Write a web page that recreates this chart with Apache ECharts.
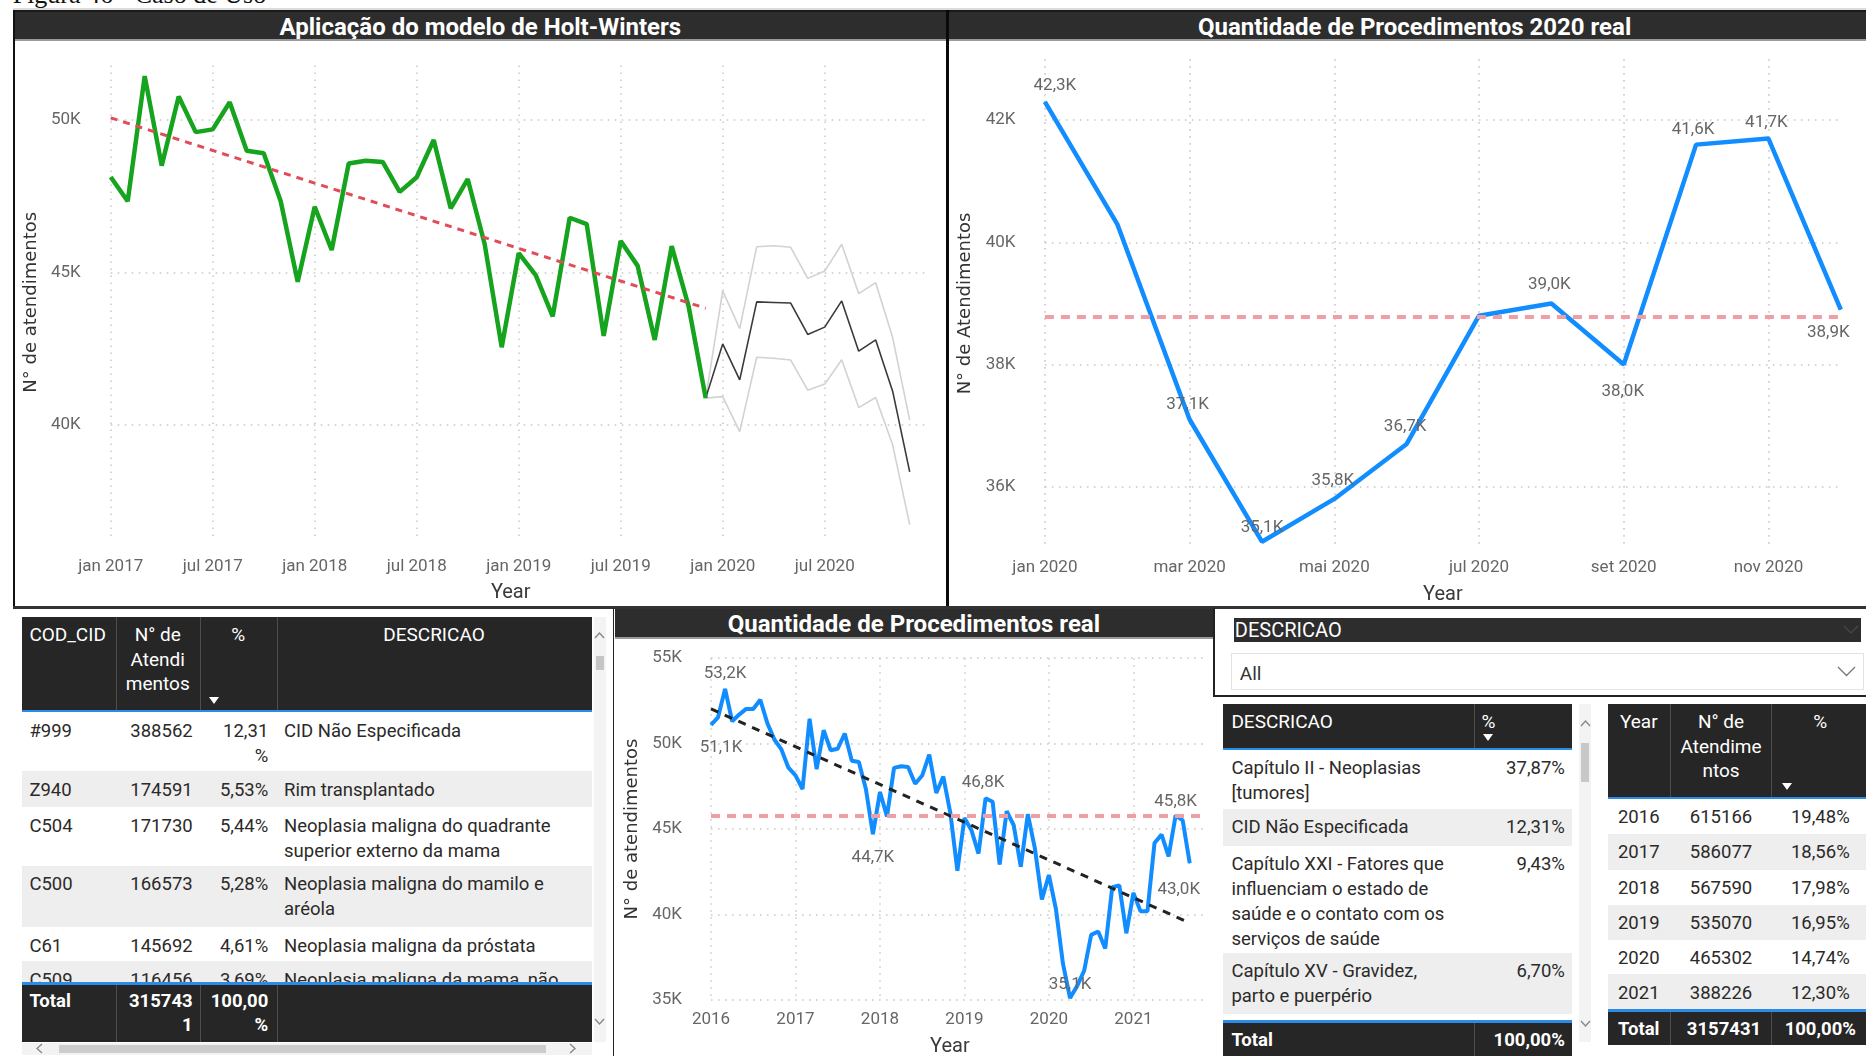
<!DOCTYPE html>
<html lang="pt-BR">
<head>
<meta charset="utf-8">
<title>Painel de atendimentos</title>
<script src="https://cdn.jsdelivr.net/npm/echarts@6.0.0/dist/echarts.min.js"></script>
<style>
  html, body { margin:0; padding:0; width:1866px; height:1056px; overflow:hidden; background:#fff; }
  body { position:relative; font-family: Roboto, "Liberation Sans", sans-serif; color:#2b2a29; }
  .a { position:absolute; box-sizing:border-box; }
  .t { position:absolute; white-space:pre; }
  .w { position:absolute; white-space:normal; word-break:break-all; }
  .ww { position:absolute; white-space:normal; }
  .chart { position:absolute; }
  .title { background:#2d2d2d; color:#fff; font-weight:700; font-size:24px; text-align:center; line-height:30px; border-bottom:2px solid #9a9a9a; white-space:nowrap; overflow:hidden; }
</style>
</head>
<body>
<div class="t" style="left:12.7px; top:-18px; font-family:'Liberation Serif','DejaVu Serif',serif; font-size:26px; line-height:26px; color:#111;">Figura 46 - Caso de Uso</div>

<script>
// ---------- dados ----------
const monthNames = ['jan','fev','mar','abr','mai','jun','jul','ago','set','out','nov','dez'];

// atendimentos mensais
const atend2016 = [51100, 51540, 53200, 51310, 51700, 52030, 52030, 52570, 51200, 50240, 49660, 48590];
const atend2017 = [48140, 47340, 51450, 48510, 50780, 49610, 49700, 50590, 49000, 48920, 47340, 44700];
const atend2018 = [47160, 45740, 48580, 48670, 48630, 47650, 48130, 49350, 47110, 48070, 45930, 42550];
const atend2019 = [45640, 44920, 43560, 46800, 46590, 42920, 46040, 45220, 42790, 45870, 43880, 40880];
const atend2020 = [42300, 40300, 37100, 35100, 35800, 36700, 38800, 39000, 38000, 41600, 41700, 38900];
const atend2021 = [41260, 40190, 40190, 44180, 44670, 43400, 45800, 45510, 43000];

// previsão Holt-Winters para 2020 e intervalo
const hwPrevisao  = [42660, 41480, 44040, 44020, 44000, 42970, 43210, 44070, 42420, 42790, 41100, 38460];
const hwLimiteSup = [44400, 43160, 45850, 45880, 45830, 44810, 45050, 45930, 44310, 44670, 42860, 40160];
const hwLimiteInf = [40930, 39780, 42220, 42190, 42130, 41140, 41340, 42140, 40570, 40900, 39340, 36730];

// linhas de tendência (extremos)
const hwTendencia = [50080, 43830];     // jan 2017 -> dez 2019
const realTendencia = [52030, 39500];   // jan 2016 -> set 2021

// tabelas
const cidCodigos = ['#999', 'Z940', 'C504', 'C500', 'C61', 'C509'];
const cidAtend = ['388562', '174591', '171730', '166573', '145692', '116456'];
const cidPct = ['12,31%', '5,53%', '5,44%', '5,28%', '4,61%', '3,69%'];
const cidDescricao = ['CID Não Especificada', 'Rim transplantado',
  'Neoplasia maligna do quadrante superior externo da mama', 'Neoplasia maligna do mamilo e aréola',
  'Neoplasia maligna da próstata', 'Neoplasia maligna da mama, não especificada'];

const capitulos = ['Capítulo II - Neoplasias [tumores]', 'CID Não Especificada',
  'Capítulo XXI - Fatores que influenciam o estado de saúde e o contato com os serviços de saúde',
  'Capítulo XV - Gravidez, parto e puerpério'];
const capitulosPct = ['37,87%', '12,31%', '9,43%', '6,70%'];

const anos = ['2016', '2017', '2018', '2019', '2020', '2021'];
const atendPorAno = ['615166', '586077', '567590', '535070', '465302', '388226'];
const pctPorAno = ['19,48%', '18,56%', '17,98%', '16,95%', '14,74%', '12,30%'];
const totalAtend = '3157431';
const totalPct = '100,00%';

// ---------- helpers de layout ----------
const FONT = 'Roboto, "Liberation Sans", sans-serif';
// permite quebrar a linha antes do sinal de porcentagem em colunas estreitas
const quebraPct = s => s.replace('%', '\u200B%');

function el(x, y, w, h, css, text) {
  const d = document.createElement('div');
  d.className = 'a';
  d.style.cssText = `left:${x}px;top:${y}px;` + (w != null ? `width:${w}px;` : '') + (h != null ? `height:${h}px;` : '') + (css || '');
  if (text != null) d.textContent = text;
  document.body.appendChild(d);
  return d;
}
// cy = centro da primeira linha; align: l (x = esquerda), r (x = direita), c (x = centro)
function txt(s, x, cy, align, css, lh) {
  lh = lh || 25;
  const d = document.createElement('div');
  d.className = 't';
  const tx = align === 'r' ? 'translateX(-100%)' : align === 'c' ? 'translateX(-50%)' : 'none';
  const ta = align === 'r' ? 'right' : align === 'c' ? 'center' : 'left';
  d.style.cssText = `left:${x}px;top:${cy - lh / 2}px;line-height:${lh}px;transform:${tx};text-align:${ta};` + (css || '');
  d.textContent = s;
  document.body.appendChild(d);
  return d;
}
// texto com quebra automática dentro de largura w
function wtxt(s, x, cy, w, align, css, lh, cls) {
  lh = lh || 25;
  const d = document.createElement('div');
  d.className = cls || 'w';
  const left = align === 'r' ? x - w : x;
  d.style.cssText = `left:${left}px;top:${cy - lh / 2}px;width:${w}px;line-height:${lh}px;text-align:${align === 'r' ? 'right' : 'left'};` + (css || '');
  d.textContent = s;
  document.body.appendChild(d);
  return d;
}
function chevron(cx, cy, dir, w, h, color, sw) {
  const ns = 'http://www.w3.org/2000/svg';
  const s = document.createElementNS(ns, 'svg');
  s.setAttribute('width', w + 4); s.setAttribute('height', h + 4);
  s.style.cssText = `position:absolute;left:${cx - w / 2 - 2}px;top:${cy - h / 2 - 2}px;overflow:visible`;
  const p = document.createElementNS(ns, 'polyline');
  let pts;
  if (dir === 'up') pts = `2,${h + 2} ${w / 2 + 2},2 ${w + 2},${h + 2}`;
  if (dir === 'down') pts = `2,2 ${w / 2 + 2},${h + 2} ${w + 2},2`;
  if (dir === 'left') pts = `${w + 2},2 2,${h / 2 + 2} ${w + 2},${h + 2}`;
  if (dir === 'right') pts = `2,2 ${w + 2},${h / 2 + 2} 2,${h + 2}`;
  p.setAttribute('points', pts); p.setAttribute('fill', 'none');
  p.setAttribute('stroke', color); p.setAttribute('stroke-width', sw || 1.4);
  s.appendChild(p); document.body.appendChild(s);
}
function sortArrow(cx, cy) {
  el(cx - 5.5, cy - 3.5, 0, 0, 'border-left:5.5px solid transparent;border-right:5.5px solid transparent;border-top:7px solid #fff;');
}

// ---------- molduras e títulos ----------
el(13, 8, 1853, 2.5, 'background:#dcdcdc');
el(13, 10, 1853, 1.8, 'background:#1a1a1a');
el(13, 10, 2, 598, 'background:#111');
el(945.7, 10, 3.4, 598, 'background:#0a0a0a');
el(13, 606.3, 1853, 2.5, 'background:#333');
el(15, 11.5, 930.7, 29, '', 'Aplicação do modelo de Holt-Winters').classList.add('title');
el(949.1, 11.5, 931, 29, '', 'Quantidade de Procedimentos 2020 real').classList.add('title');
el(612.7, 608, 1.8, 448, 'background:#222');
el(614.5, 609, 598.8, 29.5, '', 'Quantidade de Procedimentos real').classList.add('title');
el(1213.3, 608, 2, 89, 'background:#222');
el(1213.3, 695, 652.7, 2, 'background:#222');

// ---------- filtro DESCRICAO ----------
el(1233.5, 618, 627.5, 23.5, 'background:#2d2d2d');
txt('DESCRICAO', 1234.8, 629.8, 'l', 'color:#fff;font-size:20px;', 24);
chevron(1850.7, 629, 'down', 14, 7, '#4a4a4a', 1.2);
el(1230.6, 653.3, 633.4, 36.7, 'border:1px solid #e3e3e3;background:#fff');
txt('All', 1239.8, 674.3, 'l', 'color:#333;font-size:19px;', 24);
chevron(1846.5, 671.7, 'down', 17, 8.5, '#777', 1.3);

// ---------- tabela CID ----------
(function () {
  const HEAD = '#262626', BLUE = '#2b8be6', GRAY = '#eeeeee';
  el(21.5, 616.5, 570, 93.5, 'background:' + HEAD);
  el(21.5, 710, 570, 2.3, 'background:' + BLUE);
  [115.5, 200, 276.5].forEach(x => el(x, 616.5, 1, 93.5, 'background:#4d4d4d'));
  const hcss = 'color:#fff;font-size:19px;';
  txt('COD_CID', 29.4, 635.4, 'l', hcss, 24.3);
  txt('N° de\nAtendi\nmentos', 157.75, 635.4, 'c', hcss, 24.3);
  txt('%', 238.25, 635.4, 'c', hcss, 24.3);
  txt('DESCRICAO', 434, 635.4, 'c', hcss, 24.3);
  sortArrow(214, 700.4);

  const tops = [712, 771.4, 807, 865.7, 927.4, 961.4];
  const hs = [59.4, 35.6, 58.7, 61.7, 34, 40];
  const bcss = 'color:#2b2a29;font-size:18.5px;';
  tops.forEach((t, i) => {
    el(21.5, t, 570, hs[i], 'background:' + (i % 2 ? GRAY : '#fff'));
    const cy = t + 19;
    txt(cidCodigos[i], 29.4, cy, 'l', bcss);
    txt(cidAtend[i], 192.7, cy, 'r', bcss);
    wtxt(quebraPct(cidPct[i]), 268.3, cy, 53, 'r', bcss, 25, 'ww');
    wtxt(cidDescricao[i], 284, cy, 300, 'l', bcss, 25, 'ww');
  });
  el(21.5, 982, 570, 2.5, 'background:' + BLUE);
  el(21.5, 984.5, 570, 57, 'background:' + HEAD);
  [115.5, 200, 276.5].forEach(x => el(x, 984.5, 1, 57, 'background:#4d4d4d'));
  const tcss = 'color:#fff;font-size:18.5px;font-weight:700;';
  txt('Total', 29.4, 1001.4, 'l', tcss, 24);
  wtxt(totalAtend, 192.7, 1001.4, 66, 'r', tcss, 24);
  wtxt(quebraPct(totalPct), 268.3, 1001.4, 64, 'r', tcss, 24, 'ww');

  // barras de rolagem
  el(593.5, 616.5, 12, 425, 'background:#f3f3f3');
  el(595.5, 656, 8, 14, 'background:#c6c6c6');
  chevron(599.5, 635, 'up', 9, 5, '#888');
  chevron(599.5, 1021.4, 'down', 9, 5, '#888');
  el(21.5, 1042.5, 570, 12.5, 'background:#f3f3f3');
  el(58.8, 1045, 487.6, 8, 'background:#cdcdcd');
  chevron(39, 1048.7, 'left', 5, 9, '#888');
  chevron(572.6, 1048.7, 'right', 5, 9, '#888');
})();

// ---------- tabela capítulos ----------
(function () {
  const HEAD = '#262626', BLUE = '#2b8be6', GRAY = '#eeeeee';
  el(1223, 704, 349.4, 44, 'background:' + HEAD);
  el(1223, 748, 349.4, 2.3, 'background:' + BLUE);
  el(1474.1, 704, 1, 44, 'background:#4d4d4d');
  const hcss = 'color:#fff;font-size:19px;';
  txt('DESCRICAO', 1231.4, 722.3, 'l', hcss, 24);
  txt('%', 1481.6, 722.3, 'l', hcss, 24);
  sortArrow(1488.8, 737.3);

  const tops = [750, 809, 845.7, 952.7];
  const hs = [59, 36.7, 107, 61.6];
  const bcss = 'color:#2b2a29;font-size:18.5px;';
  tops.forEach((t, i) => {
    el(1223, t, 349.4, hs[i], 'background:' + (i % 2 ? GRAY : '#fff'));
    const cy = t + 18.5;
    wtxt(capitulos[i], 1231.4, cy, 222, 'l', bcss, 25, 'ww');
    txt(capitulosPct[i], 1564.9, cy, 'r', bcss);
  });
  el(1223, 1020, 349.4, 2.5, 'background:' + BLUE);
  el(1223, 1022.5, 349.4, 40, 'background:' + HEAD);
  el(1474.1, 1022.5, 1, 40, 'background:#4d4d4d');
  const tcss = 'color:#fff;font-size:18.5px;font-weight:700;';
  txt('Total', 1231.4, 1040, 'l', tcss);
  txt(totalPct, 1564.9, 1040, 'r', tcss);

  el(1578.7, 704, 12.5, 337.7, 'background:#f3f3f3');
  el(1580.7, 743.3, 8.5, 38.4, 'background:#c8c8c8');
  chevron(1585, 723.3, 'up', 9, 5, '#888');
  chevron(1585, 1023.3, 'down', 9, 5, '#888');
})();

// ---------- tabela por ano ----------
(function () {
  const HEAD = '#262626', BLUE = '#2b8be6', GRAY = '#eeeeee';
  el(1608, 704, 270, 93, 'background:' + HEAD);
  el(1608, 797, 270, 2.3, 'background:' + BLUE);
  [1669.5, 1771.2].forEach(x => el(x, 704, 1, 93, 'background:#4d4d4d'));
  const hcss = 'color:#fff;font-size:19px;';
  const cx = [1638.75, 1721, 1820.3];
  txt('Year', cx[0], 722.3, 'c', hcss, 24.4);
  txt('N° de\nAtendime\nntos', cx[1], 722.3, 'c', hcss, 24.4);
  txt('%', cx[2], 722.3, 'c', hcss, 24.4);
  sortArrow(1787, 786.7);

  const tops = [799, 834, 870, 905, 940, 974.3];
  const hs = [35, 36, 35, 35, 34.3, 34.7];
  const bcss = 'color:#2b2a29;font-size:18.5px;';
  tops.forEach((t, i) => {
    el(1608, t, 270, hs[i], 'background:' + (i % 2 ? GRAY : '#fff'));
    const cy = t + 18.7;
    txt(anos[i], cx[0], cy, 'c', bcss);
    txt(atendPorAno[i], cx[1], cy, 'c', bcss);
    txt(pctPorAno[i], cx[2], cy, 'c', bcss);
  });
  el(1608, 1009, 270, 2.5, 'background:' + BLUE);
  el(1608, 1011.5, 270, 33, 'background:' + HEAD);
  [1669.5, 1771.2].forEach(x => el(x, 1011.5, 1, 33, 'background:#4d4d4d'));
  const tcss = 'color:#fff;font-size:18.5px;font-weight:700;';
  txt('Total', cx[0], 1029, 'c', tcss);
  txt(totalAtend, cx[1] + 3, 1029, 'c', tcss);
  txt(totalPct, cx[2], 1029, 'c', tcss);
})();

// ---------- gráficos ----------
function meses(anoIni, n) {
  const out = [];
  for (let i = 0; i < n; i++) out.push(monthNames[i % 12] + ' ' + (anoIni + Math.floor(i / 12)));
  return out;
}
const fmtK = v => (v / 1000).toFixed(1).replace('.', ',') + 'K';
function rotulos(valores, posicoes) {
  return valores.map((v, i) => {
    const p = posicoes[i];
    if (!p) return v;
    return { value: v, label: { show: true, position: p.pos, distance: p.d, offset: [p.dx || 0, 0] } };
  });
}
function chartDiv(x, y, w, h) {
  const d = document.createElement('div');
  d.className = 'chart';
  d.style.cssText = `left:${x}px;top:${y}px;width:${w}px;height:${h}px;`;
  document.body.appendChild(d);
  return echarts.init(d, null, { renderer: 'canvas' });
}
const GRID = '#c9c9c9';
const DOT = [1.6, 5.4];
const T = 'rgba(0,0,0,0)';
const axisLabelBase = { color: '#666', fontSize: 17, fontFamily: FONT };
const yLabelBase = Object.assign({ padding: [4, 0, 0, 0] }, axisLabelBase);
const xNameStyle = { fontSize: 20, color: '#3a3a3a', fontFamily: FONT };
const yNameStyle = { fontSize: 18, color: '#333', fontFamily: '"DejaVu Sans", sans-serif' };
const dataLabel = { show: false, color: '#666', fontSize: 17, fontFamily: FONT, formatter: p => fmtK(p.value) };
// marcadores mínimos só para ancorar os rótulos de valor
const ancora = { symbol: 'circle', symbolSize: 1, showSymbol: true, showAllSymbol: true };
const gridBase = { containLabel: false, outerBoundsMode: 'none' };

// 1) Holt-Winters
(function () {
  const cats = meses(2017, 49);
  const real = [...atend2017, ...atend2018, ...atend2019];
  const pad = new Array(real.length - 1).fill(null);
  const ult = real[real.length - 1];
  const prev = [...pad, ult, ...hwPrevisao];
  const sup = [...pad, ult, ...hwLimiteSup];
  const inf = [...pad, ult, ...hwLimiteInf];
  const mostra = i => i % 6 === 0 && i < 48;
  const c = chartDiv(15, 40, 930, 566);
  c.setOption({
    animation: false,
    grid: Object.assign({ left: 95.7, right: 18.3, top: 25.4, bottom: 66.8 }, gridBase),
    xAxis: {
      type: 'category', data: cats, boundaryGap: false,
      axisLine: { show: false }, axisTick: { show: false },
      axisLabel: Object.assign({ interval: mostra, margin: 19 }, axisLabelBase),
      splitLine: { show: true, interval: mostra, lineStyle: { color: GRID, type: DOT, width: 1.5 } },
      name: 'Year', nameLocation: 'middle', nameGap: 44,
      nameTextStyle: Object.assign({ padding: [0, 16, 0, 0] }, xNameStyle)
    },
    yAxis: {
      type: 'value', min: 36250, max: 51800, interval: 1250,
      axisLine: { show: false }, axisTick: { show: false },
      axisLabel: Object.assign({ margin: 30, formatter: v => (v % 5000 === 0 ? v / 1000 + 'K' : '') }, yLabelBase),
      splitLine: { show: true, lineStyle: { color: [T, T, T, GRID], type: DOT, width: 1.5 } },
      name: 'N° de atendimentos', nameLocation: 'middle', nameGap: 68, nameTextStyle: yNameStyle
    },
    series: [
      { type: 'line', data: inf, symbol: 'none', lineStyle: { color: '#d2d2d2', width: 1.6 } },
      { type: 'line', data: sup, symbol: 'none', lineStyle: { color: '#d2d2d2', width: 1.6 } },
      { type: 'line', data: prev, symbol: 'none', lineStyle: { color: '#3a3a3a', width: 1.6 } },
      { type: 'line', data: real, symbol: 'none', lineStyle: { color: '#16a31e', width: 4.5 } },
      { type: 'line', data: [[0, hwTendencia[0]], [real.length - 1, hwTendencia[1]]], symbol: 'none',
        lineStyle: { color: '#e24c5a', width: 3, type: [7, 6] } }
    ]
  });
})();

// 2) 2020 real
(function () {
  const cats = meses(2020, 12);
  const pos = {
    0: { pos: 'top', d: 7, dx: 10 }, 2: { pos: 'top', d: 6, dx: -2 }, 3: { pos: 'top', d: 5 },
    4: { pos: 'top', d: 9, dx: -1.5 }, 5: { pos: 'top', d: 8, dx: -1.5 }, 7: { pos: 'top', d: 9.5, dx: -2 },
    8: { pos: 'bottom', d: 18.5, dx: -1 }, 9: { pos: 'top', d: 5.5, dx: -3 }, 10: { pos: 'top', d: 7, dx: -2 },
    11: { pos: 'bottom', d: 14.5, dx: -12.5 }
  };
  const c = chartDiv(949, 40, 917, 566);
  c.setOption({
    animation: false,
    grid: Object.assign({ left: 95.9, right: 25.2, top: 19.1, bottom: 58.2 }, gridBase),
    xAxis: {
      type: 'category', data: cats, boundaryGap: false,
      axisLine: { show: false }, axisTick: { show: false },
      axisLabel: Object.assign({ interval: 1, margin: 11 }, axisLabelBase),
      splitLine: { show: true, interval: 1, lineStyle: { color: GRID, type: DOT, width: 1.5 } },
      name: 'Year', nameLocation: 'middle', nameGap: 37, nameTextStyle: xNameStyle
    },
    yAxis: {
      type: 'value', min: 35000, max: 43000, interval: 1000,
      axisLine: { show: false }, axisTick: { show: false },
      axisLabel: Object.assign({ margin: 29.4, formatter: v => (v % 2000 === 0 ? v / 1000 + 'K' : '') }, yLabelBase),
      splitLine: { show: true, lineStyle: { color: [T, GRID], type: DOT, width: 1.5 } },
      name: 'N° de Atendimentos', nameLocation: 'middle', nameGap: 68, nameTextStyle: yNameStyle
    },
    series: [Object.assign({
      type: 'line', data: rotulos(atend2020, pos),
      itemStyle: { color: '#118dff' },
      lineStyle: { color: '#118dff', width: 4.5 }, label: dataLabel,
      markLine: {
        silent: true, symbol: 'none', label: { show: false },
        lineStyle: { color: '#ee9ea5', width: 4, type: [9, 7] },
        data: [{ type: 'average' }]
      }
    }, ancora)]
  });
})();

// 3) série completa
(function () {
  const cats = meses(2016, 71);
  const real = [...atend2016, ...atend2017, ...atend2018, ...atend2019, ...atend2020, ...atend2021];
  const pos = {
    0: { pos: 'bottom', d: 14, dx: 10 }, 2: { pos: 'top', d: 6 }, 23: { pos: 'bottom', d: 15 },
    39: { pos: 'top', d: 7, dx: -2.5 }, 51: { pos: 'top', d: 4 }, 66: { pos: 'top', d: 5 },
    68: { pos: 'bottom', d: 17.5, dx: -11 }
  };
  const mostra = i => i % 12 === 0;
  const c = chartDiv(614, 638, 599, 418);
  c.setOption({
    animation: false,
    grid: Object.assign({ left: 97, right: 9.2, top: 20.2, bottom: 56.2 }, gridBase),
    xAxis: {
      type: 'category', data: cats, boundaryGap: false,
      axisLine: { show: false }, axisTick: { show: false },
      axisLabel: Object.assign({ interval: mostra, margin: 11, formatter: v => v.split(' ')[1] }, axisLabelBase),
      splitLine: { show: true, interval: mostra, lineStyle: { color: GRID, type: DOT, width: 1.5 } },
      name: 'Year', nameLocation: 'middle', nameGap: 37.5,
      nameTextStyle: Object.assign({ padding: [0, 15, 0, 0] }, xNameStyle)
    },
    yAxis: {
      type: 'value', min: 35000, max: 55000, interval: 5000,
      axisLine: { show: false }, axisTick: { show: false },
      axisLabel: Object.assign({ margin: 29, formatter: v => v / 1000 + 'K' }, yLabelBase),
      splitLine: { show: true, lineStyle: { color: GRID, type: DOT, width: 1.5 } },
      name: 'N° de atendimentos', nameLocation: 'middle', nameGap: 68, nameTextStyle: yNameStyle
    },
    series: [
      Object.assign({
        type: 'line', data: rotulos(real, pos),
        itemStyle: { color: '#118dff' },
        lineStyle: { color: '#118dff', width: 4 }, label: dataLabel,
        markLine: {
          silent: true, symbol: 'none', label: { show: false },
          lineStyle: { color: '#ee9ea5', width: 4, type: [9, 7] },
          data: [{ type: 'average' }]
        }
      }, ancora),
      { type: 'line', data: [[0, realTendencia[0]], [real.length - 1, realTendencia[1]]], symbol: 'none',
        lineStyle: { color: '#222', width: 3, type: [8, 7] } }
    ]
  });
})();
</script>
</body>
</html>
